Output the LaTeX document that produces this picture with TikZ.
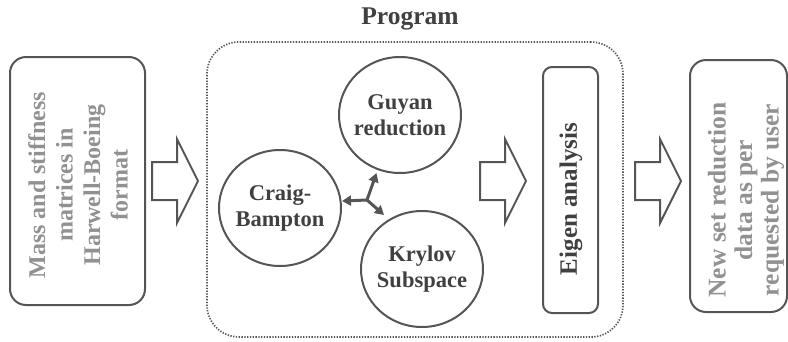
\documentclass[tikz,border=0pt]{standalone}
\usepackage{fontspec}
\setmainfont{Liberation Serif}
\usetikzlibrary{arrows.meta,shapes.geometric}
\definecolor{edgegray}{RGB}{85,85,85}
\definecolor{textdark}{RGB}{64,64,64}
\definecolor{textlight}{RGB}{145,145,145}
\begin{document}
\begin{tikzpicture}[x=1pt,y=-1pt,
  every node/.style={font=\bfseries, text=textdark, align=center, inner sep=0pt},
  sidebox/.style={draw=edgegray, line width=2pt, rounded corners=16pt},
  eigenbox/.style={draw=edgegray, line width=2pt, rounded corners=9pt},
  programbox/.style={draw=edgegray, line width=1.7pt, rounded corners=32pt,
    dash pattern=on 1.3pt off 1.5pt},
  method/.style={draw=edgegray, line width=2pt, ellipse, inner sep=-20pt,
    minimum width=122pt, minimum height=116pt,
    font=\bfseries\fontsize{22.5}{26}\selectfont},
  arrowshape/.style={draw=edgegray, line width=2pt, fill=white, line join=miter},
  conn/.style={draw=edgegray, line width=3pt,
    -{Triangle[length=9pt,width=10pt]}},
  blockarrow/.pic={
    \path[arrowshape] (0,-19) -- (25,-19) -- (25,-42) -- (46,0) -- (25,42)
      -- (25,19) -- (0,19) -- cycle;
  }
]
\useasboundingbox (0,0) rectangle (788,341);

% input data
\node[sidebox, minimum width=135pt, minimum height=248pt] (input) at (77.5,181) {};
\node[rotate=90, text=textlight, font=\bfseries\fontsize{24}{27.5}\selectfont]
  (inputtext) at (78,185) {Mass and stiffness\\matrices in\\Harwell-Boeing\\format};

% program frame and title
\node[programbox, minimum width=416pt, minimum height=295pt] (program) at (415,189.5) {};
\node[font=\bfseries\fontsize{25.5}{30}\selectfont] (title) at (410,19) {Program};

% reduction methods
\node[method] (guyan) at (400,115) {Guyan\\reduction};
\node[method] (craig) at (280,208) {Craig-\\Bampton};
\node[method] (krylov) at (422,269) {Krylov\\Subspace};

% three-way connector between the methods
\coordinate (hub) at (367,200);
\coordinate (toC) at (342,201);
\coordinate (toG) at (376.5,173);
\coordinate (toK) at (384,215);
\draw[conn] (hub) -- (toC);
\draw[conn] (hub) -- (toG);
\draw[conn] (hub) -- (toK);

% eigen analysis
\node[eigenbox, minimum width=55pt, minimum height=246pt] (eigen) at (570.5,190) {};
\node[rotate=90, font=\bfseries\fontsize{25}{28}\selectfont] (eigentext) at (571,199) {Eigen analysis};

% output data
\node[sidebox, minimum width=97pt, minimum height=252pt] (output) at (738.5,186) {};
\node[rotate=90, text=textlight, font=\bfseries\fontsize{25.5}{26.5}\selectfont]
  (outputtext) at (746,200) {New set reduction\\data as per\\requested by user};

% flow arrows
\pic at (152,181) {blockarrow};
\pic at (480,181) {blockarrow};
\pic at (635,181) {blockarrow};
\end{tikzpicture}
\end{document}
